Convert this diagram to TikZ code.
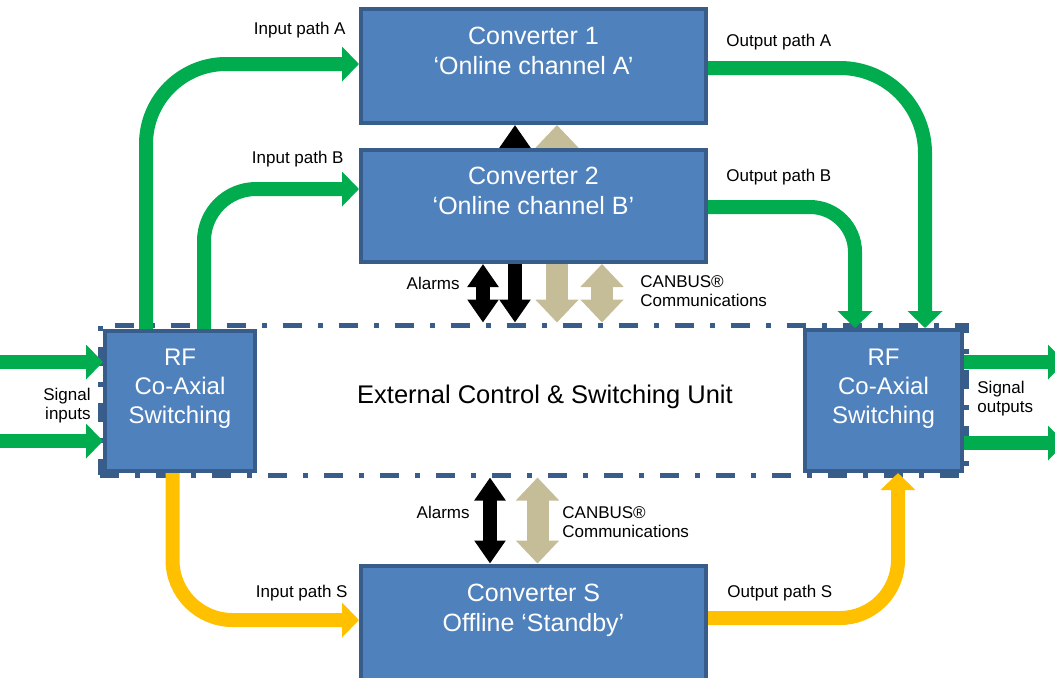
\documentclass[tikz,border=0pt]{standalone}
\usepackage{fontspec}
\setmainfont{Liberation Sans}
\usepackage{xcolor}
\usetikzlibrary{arrows.meta}
\definecolor{boxfill}{RGB}{79,129,189}
\definecolor{boxline}{RGB}{56,93,138}
\definecolor{pathgreen}{RGB}{0,172,78}
\definecolor{pathyellow}{RGB}{255,192,0}
\definecolor{canbustan}{RGB}{196,189,151}

\begin{document}
\begin{tikzpicture}[x=0.5pt,y=-0.5pt,
	conv/.style={draw=boxline,fill=boxfill,line width=2pt,text=white,align=center,
		minimum width=172.5pt,minimum height=57pt,font=\fontsize{12.5}{15}\selectfont},
	rfbox/.style={conv,minimum width=75pt,minimum height=70pt,font=\fontsize{12}{14.5}\selectfont},
	ctrl/.style={draw=boxline,line width=2.5pt,dash pattern=on 9.5pt off 8pt on 2.5pt off 8pt,
		minimum width=433pt,minimum height=75pt},
	gpath/.style={draw=pathgreen,line width=7pt,-{Triangle[width=17pt,length=8.5pt]}},
	ypath/.style={gpath,draw=pathyellow},
	alarm/.style={draw=black,line width=7pt,{Triangle[width=15pt,length=11.5pt]}-{Triangle[width=15pt,length=11.5pt]}},
	canbus/.style={draw=canbustan,line width=11pt,{Triangle[width=21pt,length=11.5pt]}-{Triangle[width=21pt,length=11.5pt]}},
	lab/.style={inner sep=0pt,font=\fontsize{8.5}{9.5}\selectfont}]
	\useasboundingbox (0,0) rectangle (1055,677);
	
	\node[ctrl] (ecsu) at (533,400) {};
	\node[conv] (conv1) at (533.5,66) {Converter 1\\‘Online channel A’\\\mbox{}};
	% these two pass behind converter 2
	\draw[alarm] ([xshift=-9.25pt]conv1.south |- ecsu.north) -- ([xshift=-9.25pt]conv1.south);
	\draw[canbus] ([xshift=11.75pt]conv1.south |- ecsu.north) -- ([xshift=11.75pt]conv1.south);
	\node[conv,minimum height=56pt] (conv2) at (533.5,206) {Converter 2\\‘Online channel B’\\\mbox{}};
	\node[conv] (convS) at (533.5,622.5) {Converter S\\Offline ‘Standby’\\\mbox{}};
	\node[rfbox] (rfin) at (180,401) {RF\\Co-Axial\\Switching\\\mbox{}};
	\node[rfbox,minimum width=78.5pt,minimum height=70.5pt] (rfout) at (883.5,400.5) {RF\\Co-Axial\\Switching\\\mbox{}};
	\node[font=\fontsize{12.75}{15}\selectfont] (ecsulab) at (545,397) {External Control \& Switching Unit};
	
	% input and output paths
	\draw[gpath,rounded corners=40pt] ([xshift=-17pt]rfin.north) |- ([yshift=1pt]conv1.west);
	\draw[gpath,rounded corners=26pt] ([xshift=12pt]rfin.north) |- ([yshift=8.5pt]conv2.west);
	\draw[gpath,rounded corners=42.5pt] ([yshift=-1pt]conv1.east) -| ([xshift=20.75pt]rfout.north);
	\draw[gpath,rounded corners=22.5pt] ([yshift=-0.5pt]conv2.east) -| ([xshift=-14.25pt]rfout.north);
	\draw[ypath,rounded corners=30pt] ([xshift=-3.75pt]rfin.south) |- ([yshift=1.25pt]convS.west);
	\draw[ypath,rounded corners=29pt] ([yshift=2.25pt]convS.east) -| ([xshift=7.25pt]rfout.south);
	
	\coordinate (sin1) at (0,362);
	\coordinate (sin2) at (0,441);
	\coordinate (sout1) at (1065,362);
	\coordinate (sout2) at (1065,443);
	\draw[gpath] (sin1) -- (sin1 -| rfin.west);
	\draw[gpath] (sin2) -- (sin2 -| rfin.west);
	\draw[gpath] (sout1 -| rfout.east) -- (sout1);
	\draw[gpath] (sout2 -| rfout.east) -- (sout2);
	
	% alarms and canbus
	\draw[alarm] ([xshift=-25.25pt]conv2.south) -- ([xshift=-25.25pt]conv2.south |- ecsu.north);
	\draw[canbus] ([xshift=34.25pt]conv2.south) -- ([xshift=34.25pt]conv2.south |- ecsu.north);
	\draw[alarm] ([xshift=-21.75pt]convS.north |- ecsu.south) -- ([xshift=-21.75pt]convS.north);
	\draw[canbus] ([xshift=2pt]convS.north |- ecsu.south) -- ([xshift=2pt]convS.north);
	
	\node[lab,anchor=east] (inA) at (346,30) {Input path A};
	\node[lab,anchor=east] (inB) at (344,159) {Input path B};
	\node[lab,anchor=west] (outA) at (726,42) {Output path A};
	\node[lab,anchor=west] (outB) at (726,177) {Output path B};
	\node[lab,anchor=east] (inS) at (348,593) {Input path S};
	\node[lab,anchor=west] (outS) at (727,593) {Output path S};
	\node[lab,anchor=east] (alm1) at (460,283) {Alarms};
	\node[lab,anchor=west,align=left] (can1) at (640,291) {CANBUS®\\Communications};
	\node[lab,anchor=east] (alm2) at (470,512) {Alarms};
	\node[lab,anchor=west,align=left] (can2) at (562,522) {CANBUS®\\Communications};
	\node[lab,anchor=east,align=right] (sigin) at (91,405.5) {Signal\\inputs};
	\node[lab,anchor=west,align=left] (sigout) at (977,399) {Signal\\outputs};
\end{tikzpicture}
\end{document}
